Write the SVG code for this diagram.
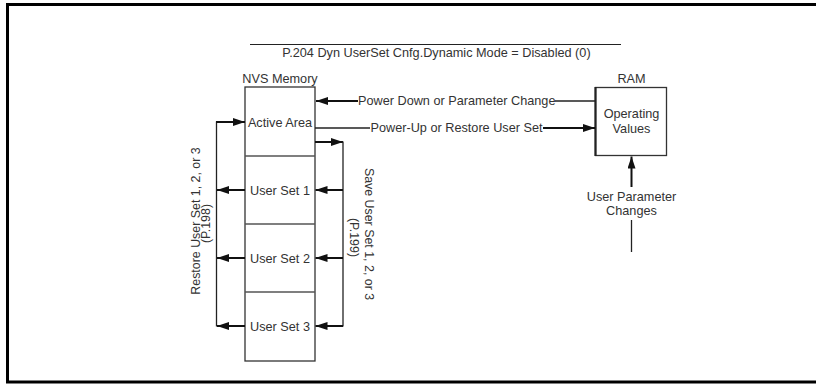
<svg xmlns="http://www.w3.org/2000/svg" width="816" height="385" viewBox="0 0 816 385">
<defs>
<marker id="ah" viewBox="0 0 12 8" refX="12" refY="4" markerWidth="12" markerHeight="8" markerUnits="userSpaceOnUse" orient="auto">
<path d="M0,0 L12,4 L0,8 Z" fill="#111"/>
</marker>
<style>
text{font-family:"Liberation Sans",Arial,sans-serif;font-size:12.7px;fill:#333}
.m{text-anchor:middle}
.r{font-size:12.4px}
.ln{stroke:#222;stroke-width:1.3;fill:none}
.arr{stroke:#111;stroke-width:2;fill:none;marker-end:url(#ah)}
.box{fill:#fff;stroke:#333;stroke-width:1.3}
.div{stroke:#555;stroke-width:1.3}
</style>
</defs>
<rect width="816" height="385" fill="#fff"/>
<rect x="7.5" y="4.5" width="820" height="377.5" fill="none" stroke="#000" stroke-width="3"/>

<g id="title">
<line x1="250" y1="44.5" x2="621" y2="44.5" stroke="#222" stroke-width="1"/>
<text class="m" x="436.5" y="57">P.204 Dyn UserSet Cnfg.Dynamic Mode = Disabled (0)</text>
</g>

<g id="nvs-memory">
<text class="m" x="280" y="83">NVS Memory</text>
<rect class="box" x="245" y="87" width="70" height="274"/>
</g>
<g id="active-area">
<text class="m" x="280" y="126.5">Active Area</text>
<line class="div" x1="245" y1="156" x2="315" y2="156"/>
</g>
<g id="user-set-1">
<text class="m" x="280" y="194.5">User Set 1</text>
<line class="div" x1="245" y1="224" x2="315" y2="224"/>
</g>
<g id="user-set-2">
<text class="m" x="280" y="262.5">User Set 2</text>
<line class="div" x1="245" y1="292" x2="315" y2="292"/>
</g>
<g id="user-set-3">
<text class="m" x="280" y="330.5">User Set 3</text>
</g>

<g id="ram">
<text class="m" x="631.5" y="83">RAM</text>
<rect class="box" x="595.5" y="87.5" width="71" height="68" stroke-width="1.5"/>
<line x1="595.5" y1="87" x2="595.5" y2="156" stroke="#222" stroke-width="2.2"/>
<text class="m" x="631.5" y="117.5">Operating</text>
<text class="m" x="631.5" y="132.5">Values</text>
</g>

<g id="user-param">
<text class="m" x="631.5" y="200.5">User Parameter</text>
<text class="m" x="631.5" y="214.5">Changes</text>
</g>

<g id="connectors">
<!-- Power Down -->
<line class="ln" x1="595" y1="101" x2="555" y2="101"/>
<line class="arr" x1="358" y1="101" x2="316" y2="101"/>
<text x="358" y="105.3">Power Down or Parameter Change</text>
<!-- Power-Up -->
<line class="ln" x1="315" y1="128" x2="370" y2="128"/>
<line class="arr" x1="543" y1="128" x2="595" y2="128"/>
<text x="370.5" y="132.3">Power-Up or Restore User Set</text>
<!-- User parameter changes -->
<line class="ln" x1="631.5" y1="252" x2="631.5" y2="220"/>
<line class="arr" x1="631.5" y1="187" x2="631.5" y2="156.5"/>
<!-- Restore -->
<line class="ln" x1="216.5" y1="121.5" x2="216.5" y2="326.5"/>
<line class="arr" x1="216" y1="122" x2="245" y2="122"/>
<line class="arr" x1="245" y1="190" x2="217" y2="190"/>
<line class="arr" x1="245" y1="258" x2="217" y2="258"/>
<line class="arr" x1="245" y1="326" x2="217" y2="326"/>
<text class="m r" transform="translate(199.5,221) rotate(-90)">Restore User Set 1, 2, or 3</text>
<text class="m r" transform="translate(210,223.5) rotate(-90)">(P.198)</text>
<!-- Save -->
<line class="arr" x1="315" y1="142" x2="343" y2="142"/>
<line class="ln" x1="343" y1="141.5" x2="343" y2="326.5"/>
<line class="arr" x1="343" y1="190" x2="315.5" y2="190"/>
<line class="arr" x1="343" y1="258" x2="315.5" y2="258"/>
<line class="arr" x1="343" y1="326" x2="315.5" y2="326"/>
<text class="m r" transform="translate(364.5,234) rotate(90)">Save User Set 1, 2, or 3</text>
<text class="m r" transform="translate(350,237.5) rotate(90)">(P.199)</text>
</g>
</svg>
